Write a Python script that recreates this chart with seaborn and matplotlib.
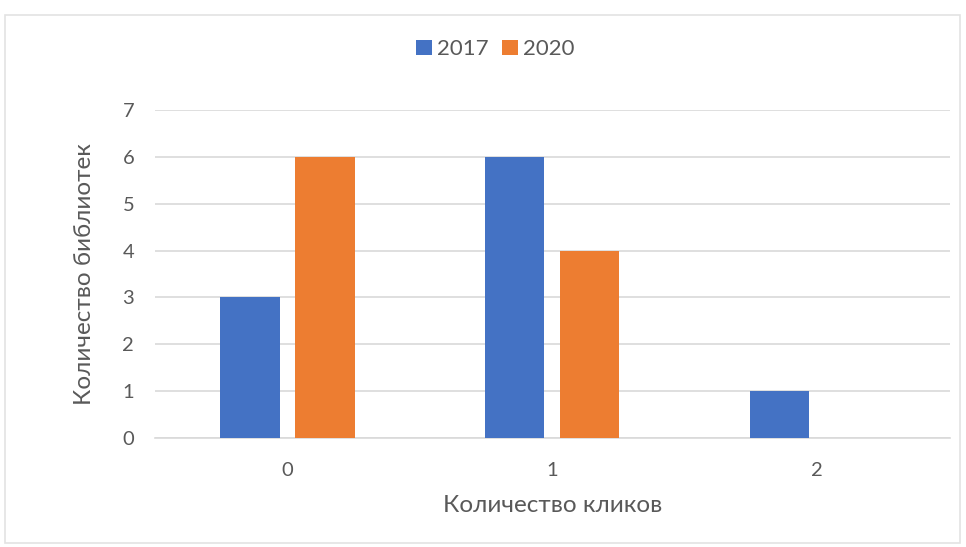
import matplotlib
matplotlib.use("Agg")
import matplotlib.pyplot as plt
from matplotlib.patches import Rectangle
import seaborn as sns
import pandas as pd

clicks = ["0", "1", "2"]
years = ["2017", "2020"]
values_2017 = [3, 6, 1]
values_2020 = [6, 4, 0]

df = pd.DataFrame({
    "clicks": clicks * 2,
    "year": [years[0]] * 3 + [years[1]] * 3,
    "count": values_2017 + values_2020,
})

sns.set_theme(style="white")
plt.rcParams["font.family"] = ["Lato", "Open Sans", "DejaVu Sans"]

text_color = "#595959"
grid_color = "#D9D9D9"
palette = {"2017": "#4472C4", "2020": "#ED7D31"}

fig = plt.figure(figsize=(9.66, 5.47), dpi=100)
ax = fig.add_axes([0.1605, 0.1993, 0.8225, 0.5996])

sns.barplot(data=df, x="clicks", y="count", hue="year", order=clicks,
            hue_order=years, palette=palette, width=0.566, gap=0.21,
            saturation=1, linewidth=0, ax=ax, legend=True, zorder=3)

ax.set_ylim(0, 7)
ax.set_yticks(range(0, 8))
ax.yaxis.grid(True, color=grid_color, linewidth=1.2, zorder=0)
ax.set_axisbelow(True)
for side in ["top", "right", "left"]:
    ax.spines[side].set_visible(False)
ax.spines["bottom"].set_color(grid_color)
ax.spines["bottom"].set_linewidth(1.2)
ax.tick_params(axis="both", length=0, labelsize=14.5, colors=text_color)
ax.tick_params(axis="y", pad=15)
ax.tick_params(axis="x", pad=17)

ax.set_xlabel("Количество кликов", fontsize=17.5, color=text_color, labelpad=12)
ax.set_ylabel("Количество библиотек", fontsize=17.5, color=text_color, labelpad=20)

handles, labels = ax.get_legend_handles_labels()
ax.legend(handles, labels, loc="center", bbox_to_anchor=(0.513, 0.91),
          bbox_transform=fig.transFigure, ncol=2, frameon=False,
          fontsize=16, labelcolor=text_color, handlelength=0.7,
          handleheight=0.7, handletextpad=0.25, columnspacing=0.6)

# light frame around the chart area
fig.patches.append(Rectangle((5 / 966, 4 / 547), 955 / 966, 528 / 547,
                             transform=fig.transFigure, fill=False,
                             edgecolor="#E3E3E3", linewidth=1.2))

fig.savefig("out.png", dpi=100, facecolor="white")
